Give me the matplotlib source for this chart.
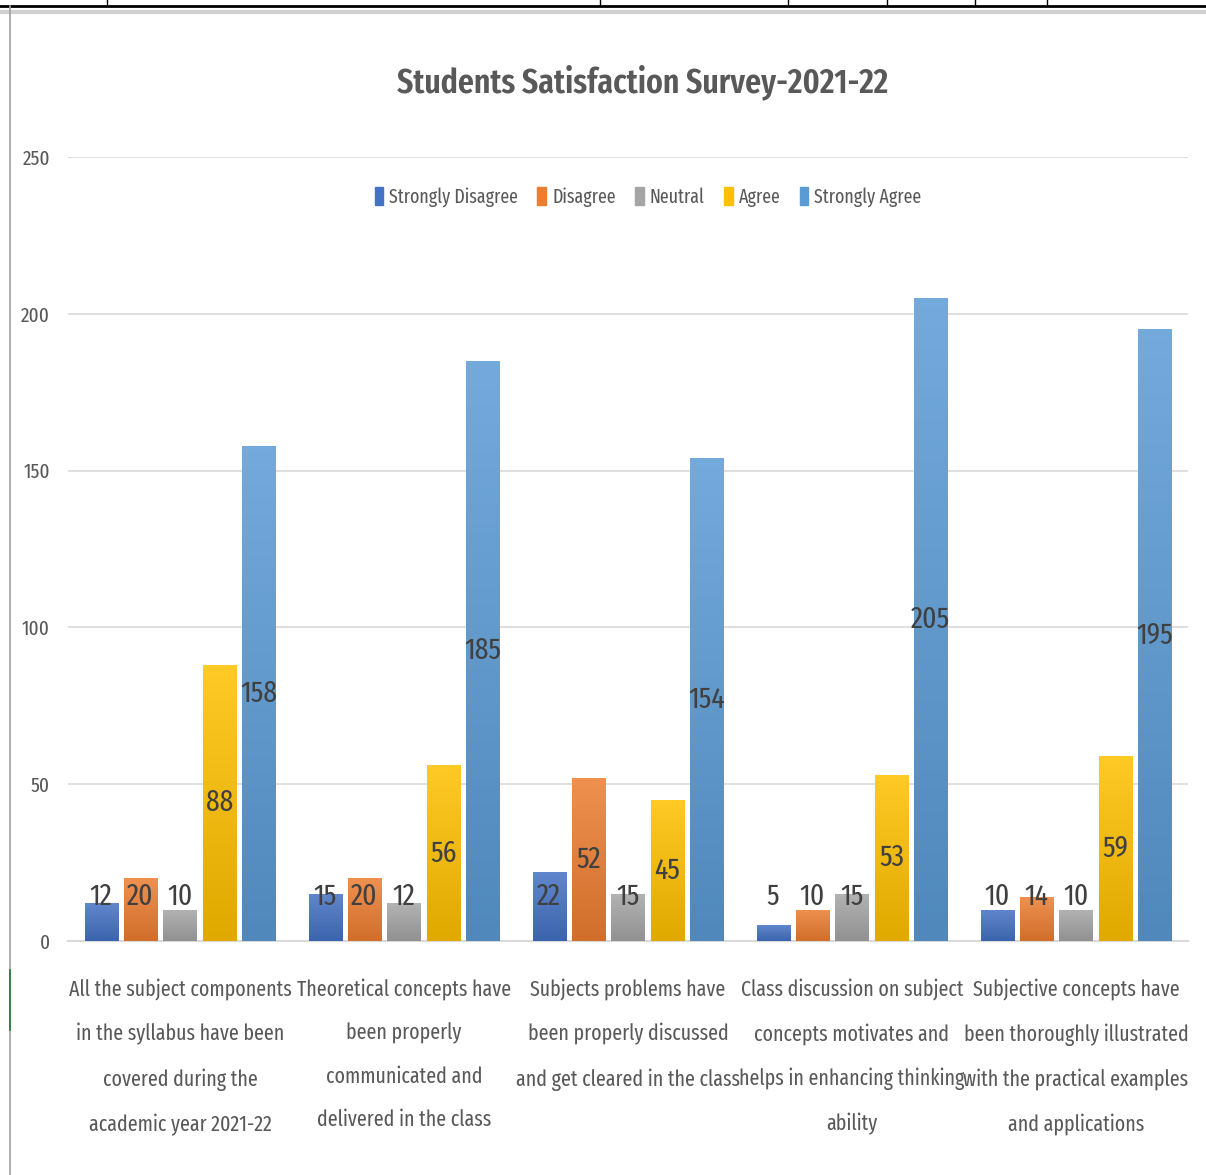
import numpy as np
import matplotlib.pyplot as plt
from matplotlib.lines import Line2D
from matplotlib.patches import Patch
from matplotlib.colors import to_rgb

categories = [
    "All the subject components\nin the syllabus have been\ncovered during the\nacademic year 2021-22",
    "Theoretical concepts have\nbeen properly\ncommunicated and\ndelivered in the class",
    "Subjects problems have\nbeen properly discussed\nand get cleared in the class",
    "Class discussion on subject\nconcepts motivates and\nhelps in enhancing thinking\nability",
    "Subjective concepts have\nbeen thoroughly illustrated\nwith the practical examples\nand applications",
]
series = ["Strongly Disagree", "Disagree", "Neutral", "Agree", "Strongly Agree"]
strongly_disagree = [12, 15, 22, 5, 10]
disagree = [20, 20, 52, 10, 14]
neutral = [10, 12, 15, 15, 10]
agree = [88, 56, 45, 53, 59]
strongly_agree = [158, 185, 154, 205, 195]
values = [strongly_disagree, disagree, neutral, agree, strongly_agree]
colors = ["#4472C4", "#ED7D31", "#A5A5A5", "#FFC000", "#5B9BD5"]

plt.rcParams['font.family'] = ['Fira Sans Extra Condensed', 'DejaVu Sans']


def gradient_bar(ax, x, h, w, color):
    """Draw one bar with a light-top / dark-bottom gradient."""
    bar = ax.bar(x, h, w, color=color, zorder=2)[0]
    base = np.array(to_rgb(color))
    t = np.linspace(0, 1, 64)[:, None]
    top = base + (1 - base) * 0.15
    bottom = base * 0.88
    img = bottom * (1 - t) + top * t
    im = ax.imshow(img[:, None, :].repeat(2, axis=1), origin='lower', aspect='auto',
                   extent=(x - w / 2, x + w / 2, 0, h), zorder=3)
    im.set_clip_path(bar)
    return bar


fig = plt.figure(figsize=(12.06, 11.75), dpi=100)
ax = fig.add_axes([68 / 1206, 1 - 941 / 1175, 1120 / 1206, 784 / 1175])

n = len(series)
step = 0.176
width = 0.148
x = np.arange(len(categories))
for j, (vals, col) in enumerate(zip(values, colors)):
    for i, v in enumerate(vals):
        xi = x[i] + (j - (n - 1) / 2) * step
        gradient_bar(ax, xi, v, width, col)
        ax.text(xi, max(v / 2, 14), str(v), ha='center', va='center',
                fontsize=21.5, color='#404040', zorder=5)

ax.set_xlim(-0.5, len(categories) - 0.5)
ax.set_ylim(0, 250)
ax.set_yticks(range(0, 251, 50))
ax.yaxis.grid(True, color='#D9D9D9', lw=1.2, zorder=0)
ax.set_axisbelow(True)
for s in ['top', 'right', 'left']:
    ax.spines[s].set_visible(False)
ax.spines['bottom'].set_color('#D9D9D9')
ax.spines['bottom'].set_linewidth(1.5)
ax.tick_params(axis='y', length=0, pad=13, labelsize=15, labelcolor='#595959')
ax.tick_params(axis='x', length=0, pad=27)
ax.set_xticks(x)
ax.set_xticklabels(categories, fontsize=15.6, color='#595959', linespacing=2.3, va='top')

fig.text(643 / 1206, 1 - 82 / 1175, "Students Satisfaction Survey-2021-22", ha='center', va='center',
         fontsize=24.8, fontweight='semibold', color='#595959')

handles = [Patch(color=c, label=s) for c, s in zip(colors, series)]
fig.legend(handles=handles, loc='center', bbox_to_anchor=(648 / 1206, 1 - 197 / 1175), ncol=5,
           frameon=False, fontsize=14, handlelength=0.45, handleheight=1.0, handletextpad=0.3,
           columnspacing=1.0, labelcolor='#595959')

# screenshot borders
fig.add_artist(Line2D([0, 1], [1 - 6 / 1175, 1 - 6 / 1175], color='black', lw=2))
fig.add_artist(Line2D([0, 1], [1 - 12 / 1175, 1 - 12 / 1175], color='#D0D0D0', lw=3))
for px in [107, 600, 788, 887, 975, 1047]:
    fig.add_artist(Line2D([px / 1206, px / 1206], [1 - 6 / 1175, 1], color='black', lw=1))
fig.add_artist(Line2D([10 / 1206, 10 / 1206], [0, 1 - 6 / 1175], color='#A0A0A0', lw=1.2))
fig.add_artist(Line2D([10 / 1206, 10 / 1206], [1 - 1030 / 1175, 1 - 970 / 1175], color='#1E7B3A', lw=1.2))

fig.savefig('out.png', dpi=100)
